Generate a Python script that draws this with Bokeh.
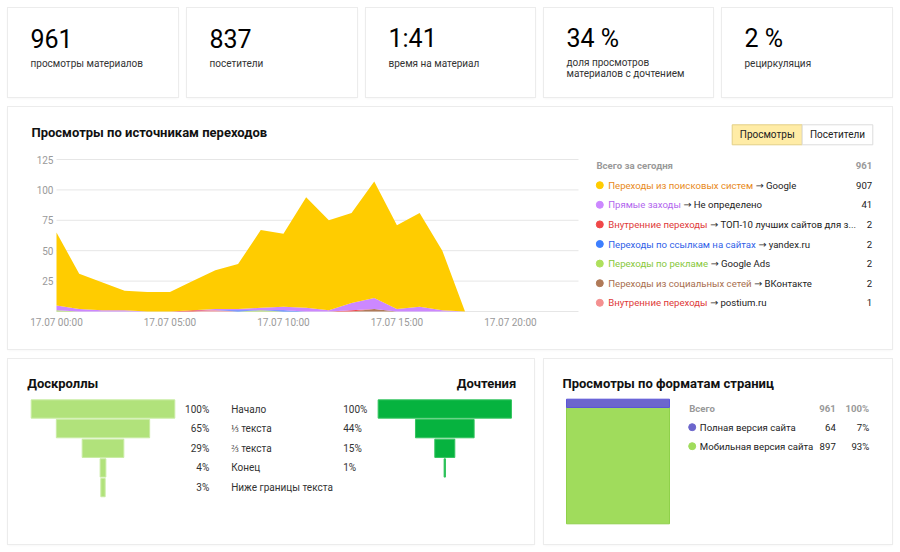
import os
from bokeh.plotting import figure
from bokeh.models import Range1d, ColumnDataSource, FixedTicker, Spacer
from bokeh.layouts import row, column
from bokeh.embed import file_html
from bokeh.resources import INLINE
from bokeh.core.properties import value

FONT = "Roboto"
ARROW_FONT = "DejaVu Sans"

# ---------------- data ----------------
kpi_values = ["961", "837", "1:41", "34 %", "2 %"]
kpi_labels = [["просмотры материалов"], ["посетители"], ["время на материал"],
              ["доля просмотров", "материалов с дочтением"], ["рециркуляция"]]

hours = list(range(24))
tick_hours = [0, 5, 10, 15, 20]
tick_labels = ["17.07 00:00", "17.07 05:00", "17.07 10:00", "17.07 15:00", "17.07 20:00"]
y_ticks = [25, 50, 75, 100, 125]

views_google = [60, 29, 23, 16, 16, 16, 24, 32, 37, 64, 60, 91, 74, 74, 96, 69, 77, 49, 0, 0, 0, 0, 0, 0]
views_direct = [4, 2, 1, 1, 0, 0, 0, 1, 1, 2, 3, 3, 1, 6, 9, 2, 4, 1, 0, 0, 0, 0, 0, 0]
views_top10 = [0, 0, 0, 0, 0, 0, 1, 0, 0, 0, 0, 0, 0, 1, 0, 0, 0, 0, 0, 0, 0, 0, 0, 0]
views_yandex = [0, 0, 0, 0, 0, 0, 0, 0, 1, 0, 1, 0, 0, 0, 0, 0, 0, 0, 0, 0, 0, 0, 0, 0]
views_ads = [1, 0, 0, 0, 0, 0, 0, 0, 0, 1, 0, 0, 0, 0, 0, 0, 0, 0, 0, 0, 0, 0, 0, 0]
views_vk = [0, 0, 0, 0, 0, 0, 0, 0, 0, 0, 0, 0, 0, 0, 2, 0, 0, 0, 0, 0, 0, 0, 0, 0]
views_postium = [0, 0, 0, 0, 0, 0, 0, 1, 0, 0, 0, 0, 0, 0, 0, 0, 0, 0, 0, 0, 0, 0, 0, 0]

source_keys = ["google", "direct", "top10", "yandex", "ads", "vk", "postium"]
source_names = ["Переходы из поисковых систем", "Прямые заходы", "Внутренние переходы",
                "Переходы по ссылкам на сайтах", "Переходы по рекламе",
                "Переходы из социальных сетей", "Внутренние переходы"]
source_targets = ["Google", "Не определено", "ТОП-10 лучших сайтов для з...", "yandex.ru",
                  "Google Ads", "ВКонтакте", "postium.ru"]
total_views = 961
toggle_labels = ["Просмотры", "Посетители"]

scroll_stages = ["Начало", "⅓ текста", "⅔ текста", "Конец", "Ниже границы текста"]
scroll_pct = [100, 65, 29, 4, 3]
read_pct = [100, 44, 15, 1]

format_names = ["Полная версия сайта", "Мобильная версия сайта"]
format_views = [64, 897]

# ---------------- styles ----------------
area_colors = ["#ffcc00", "#cc88ff", "#f04848", "#3d7fff", "#aee05c", "#b07a58", "#f49090"]
name_colors = ["#e8891a", "#b266ee", "#e03a3a", "#2f5fe8", "#88c83a", "#a86e4e", "#e03a3a"]
CARD_STYLE = {"box-shadow": "0 0 0 1px #ececec, 0 1px 3px rgba(0,0,0,0.06)"}
LS = 10      # small text size
GS = 9.6     # legend text size
TS = 13      # card title size


def _all_fonts():
    cands = []
    for d in ["/usr/share/fonts", "/usr/local/share/fonts",
              os.path.expanduser("~/.local/share/fonts"), os.path.expanduser("~/.fonts")]:
        for r, _, files in os.walk(d):
            for f in files:
                cands.append(os.path.join(r, f))
    return cands


_CANDS = _all_fonts()


def _font_file(exact, prefix):
    for c in _CANDS:
        if os.path.basename(c) == exact:
            return c
    for c in _CANDS:
        b = os.path.basename(c)
        if b.startswith(prefix) and ("Variable" in b or "[" in b) and not any(
                k in b for k in ["Italic", "Mono", "Condensed", "Slab", "Flex", "Serif"]):
            return c
    return None


try:
    from PIL import ImageFont
    _FILES = {FONT: _font_file("Roboto-Regular.ttf", "Roboto"),
              ARROW_FONT: _font_file("DejaVuSans.ttf", "DejaVuSans")}
except Exception:
    _FILES = {}
_cache = {}


def tw(s, size, font=FONT):
    fp = _FILES.get(font)
    if fp:
        try:
            key = (font, size)
            if key not in _cache:
                _cache[key] = ImageFont.truetype(fp, int(round(size * 20)))
            return _cache[key].getlength(s) / 20
        except Exception:
            pass
    return len(s) * size * (0.84 if s == "→" else 0.52)


def canvas(w, h):
    p = figure(width=w, height=h, x_range=Range1d(0, w), y_range=Range1d(h, 0),
               output_backend="svg", toolbar_location=None, x_axis_type=None, y_axis_type=None,
               min_border=0, outline_line_color=None, background_fill_color="white",
               border_fill_color="white", styles=CARD_STYLE)
    p.grid.visible = False
    return p


def txt(p, xs, ys, texts, size, color, align="left", bold=False, font=FONT, **kw):
    p.text(x=xs, y=ys, text=texts, text_font=value(font), text_font_size=value(f"{size}px"),
           text_color=color, text_align=align, text_baseline="middle",
           text_font_style="bold" if bold else "normal", **kw)


# ---------------- KPI cards ----------------
kpi_widths = [170, 170, 169, 169, 170]
kpi_cards = []
for v, labs, w in zip(kpi_values, kpi_labels, kpi_widths):
    p = canvas(w, 89)
    txt(p, [22], [30], [v], 25, "#000000")
    ys = [54.5] if len(labs) == 1 else [53.7, 65.3]
    txt(p, [22] * len(labs), ys, labs, LS, "#333333")
    kpi_cards.append(p)

# ---------------- traffic sources card (one figure) ----------------
MW, MH = 884, 242
BL, BB = 22, 22                    # left / bottom borders
X0, X1 = 48, 570                   # card pixels of first / last hour
Y0, Y125 = 204, 52                 # card pixels of value 0 / 125
sx = (X1 - X0) / (hours[-1] - hours[0])
sy = (Y0 - Y125) / y_ticks[-1]
fb = MH - BB                       # frame bottom in card px
M = figure(width=MW, height=MH,
           x_range=Range1d(hours[0] - (X0 - BL) / sx, hours[0] + (MW - X0) / sx),
           y_range=Range1d(-(fb - Y0) / sy, Y0 / sy),
           output_backend="svg", toolbar_location=None, min_border_left=BL, min_border_right=0,
           min_border_top=0, min_border_bottom=BB, outline_line_color=None,
           border_fill_color="white", background_fill_color="white", styles=CARD_STYLE)
M.grid.visible = False
M.extra_x_ranges = {"px": Range1d(BL, MW)}
M.extra_y_ranges = {"py": Range1d(fb, 0)}

grid_vals = [0] + y_ticks
M.segment(x0=[hours[0]] * len(grid_vals), x1=[hours[-1]] * len(grid_vals), y0=grid_vals,
          y1=grid_vals, line_color="#e6e6e6", line_width=1)

series = dict(google=views_google, direct=views_direct, top10=views_top10, yandex=views_yandex,
              ads=views_ads, vk=views_vk, postium=views_postium)
src = ColumnDataSource(dict(hour=hours, **series))
M.varea_stack(stackers=list(reversed(source_keys)), x="hour",
              color=list(reversed(area_colors)), source=src)

M.xaxis.ticker = FixedTicker(ticks=tick_hours)
M.xaxis.major_label_overrides = {h: lab for h, lab in zip(tick_hours, tick_labels)}
M.yaxis.ticker = FixedTicker(ticks=y_ticks)
M.xaxis.fixed_location = 0
M.yaxis.fixed_location = hours[0]
M.axis.axis_line_color = None
M.axis.major_tick_line_color = None
M.axis.minor_tick_line_color = None
M.axis.major_tick_out = 0
M.axis.major_tick_in = 0
M.axis.major_label_text_font = FONT
M.axis.major_label_text_font_size = "10px"
M.axis.major_label_text_color = "#9a9a9a"
M.yaxis.major_label_standoff = 3
M.xaxis.major_label_standoff = 5

P = dict(x_range_name="px", y_range_name="py")
txt(M, [23], [25], ["Просмотры по источникам переходов"], TS, "#111111", bold=True, **P)

# toggle buttons
M.quad(left=[723.7, 793.7], right=[793.7, 864.3], top=[17.3, 17.3], bottom=[37.3, 37.3],
       fill_color=["#ffeca6", "#ffffff"], line_color=["#e3cf85", "#dcdcdc"], line_width=1, **P)
txt(M, [758.7, 829], [27.3, 27.3], toggle_labels, LS, "#222222", align="center", **P)

# legend table
LX_DOT, LX_TXT, LX_VAL, LX_MAX = 591.3, 599.7, 863.7, 848
txt(M, [588], [58], ["Всего за сегодня"], GS, "#999999", bold=True, **P)
txt(M, [LX_VAL], [58], [str(total_views)], GS, "#999999", align="right", bold=True, **P)
row_ys = [77.7 + 19.6 * i for i in range(len(source_keys))]
M.scatter(x=[LX_DOT] * len(row_ys), y=row_ys, size=7, color=area_colors, **P)
txt(M, [LX_TXT] * len(row_ys), row_ys, source_names, GS, name_colors, **P)
space_w = tw(" ", GS)
arrow_w = tw("→", GS, ARROW_FONT)
arrow_x, target_x, target_t = [], [], []
for n, t in zip(source_names, source_targets):
    ax = LX_TXT + tw(n, GS) + space_w
    tx = ax + arrow_w + space_w
    if tx + tw(t, GS) > LX_MAX:
        base = t[:-3] if t.endswith("...") else t
        while base and tx + tw(base + "...", GS) > LX_MAX:
            base = base[:-1]
        t = base.rstrip() + "..."
    arrow_x.append(ax)
    target_x.append(tx)
    target_t.append(t)
txt(M, arrow_x, row_ys, ["→"] * len(row_ys), GS, "#333333", font=ARROW_FONT, **P)
txt(M, target_x, row_ys, target_t, GS, "#222222", **P)
totals = [sum(series[k]) for k in source_keys]
txt(M, [LX_VAL] * len(row_ys), row_ys, [str(t) for t in totals], GS, "#222222", align="right", **P)

# ---------------- funnels ----------------
W1, H1 = 526, 185
sc = canvas(W1, H1)
r0, pitch = 49.5, 19.65
sc.extra_y_ranges = {"rows": Range1d((H1 - r0) / pitch, -r0 / pitch)}


def xr(c, s, w):
    return Range1d(-c / s, (w - c) / s)


sc.extra_x_ranges = {"f1": xr(94.5, 1.436, W1), "f2": xr(436.3, 1.333, W1)}
idx = list(range(len(scroll_pct)))
sc.hbar(y=idx, left=[-v / 2 for v in scroll_pct], right=[v / 2 for v in scroll_pct], height=0.93,
        x_range_name="f1", y_range_name="rows", fill_color="#b1e27b", line_color="#c9eca3")
ridx = list(range(len(read_pct)))
sc.hbar(y=ridx, left=[-v / 2 for v in read_pct], right=[v / 2 for v in read_pct], height=0.93,
        x_range_name="f2", y_range_name="rows", fill_color="#06b33f", line_color="#33c45e")
txt(sc, [200.7] * len(idx), idx, [f"{v}%" for v in scroll_pct], LS, "#333333", align="right",
    y_range_name="rows")
txt(sc, [222.7] * len(idx), idx, scroll_stages, LS, "#333333", y_range_name="rows")
txt(sc, [334.7] * len(ridx), ridx, [f"{v}%" for v in read_pct], LS, "#333333", y_range_name="rows")
txt(sc, [18.7], [24], ["Доскроллы"], TS, "#111111", bold=True)
txt(sc, [507.7], [24], ["Дочтения"], TS, "#111111", align="right", bold=True)

# ---------------- page formats ----------------
W2, H2 = 348, 185
fm = canvas(W2, H2)
fmt_total = sum(format_views)
b_bot, b_top = 164.3, 39.7
s = (b_bot - b_top) / fmt_total
fm.extra_y_ranges = {"cnt": Range1d((b_bot - H2) / s, b_bot / s)}
fm.extra_x_ranges = {"bx": Range1d(-73.5 / 103, (W2 - 73.5) / 103)}
stack_vals = list(reversed(format_views))
bottoms, tops, acc = [], [], 0
for v in stack_vals:
    bottoms.append(acc)
    acc += v
    tops.append(acc)
fm.vbar(x=[0, 0], width=1, bottom=bottoms, top=tops, x_range_name="bx", y_range_name="cnt",
        fill_color=["#a0dc5c", "#6c66cc"], line_color=["#8fd14a", "#5b55d8"])
fmt_colors = ["#6c66cc", "#a0dc5c"]
txt(fm, [18], [24.3], ["Просмотры по форматам страниц"], TS, "#111111", bold=True)
txt(fm, [144.7], [48.7], ["Всего"], GS, "#999999", bold=True)
txt(fm, [291.3, 324.7], [48.7, 48.7], [str(fmt_total), "100%"], GS, "#999999", align="right",
    bold=True)
fys = [67.7, 86.7]
fm.scatter(x=[147.7, 147.7], y=fys, size=7, color=fmt_colors)
txt(fm, [155.3, 155.3], fys, format_names, GS, "#222222")
txt(fm, [291.3, 291.3], fys, [str(v) for v in format_views], GS, "#222222", align="right")
txt(fm, [324.7, 324.7], fys, [f"{round(v / fmt_total * 100)}%" for v in format_views], GS,
    "#222222", align="right")

top_row = row(*kpi_cards, spacing=9)
mid_row = row(M)
bottom_row = row(sc, fm, spacing=10)
content = column(top_row, mid_row, bottom_row, spacing=10)
root = column(Spacer(height=8), row(Spacer(width=8), content))

open("out.html", "w").write(file_html(root, INLINE))
